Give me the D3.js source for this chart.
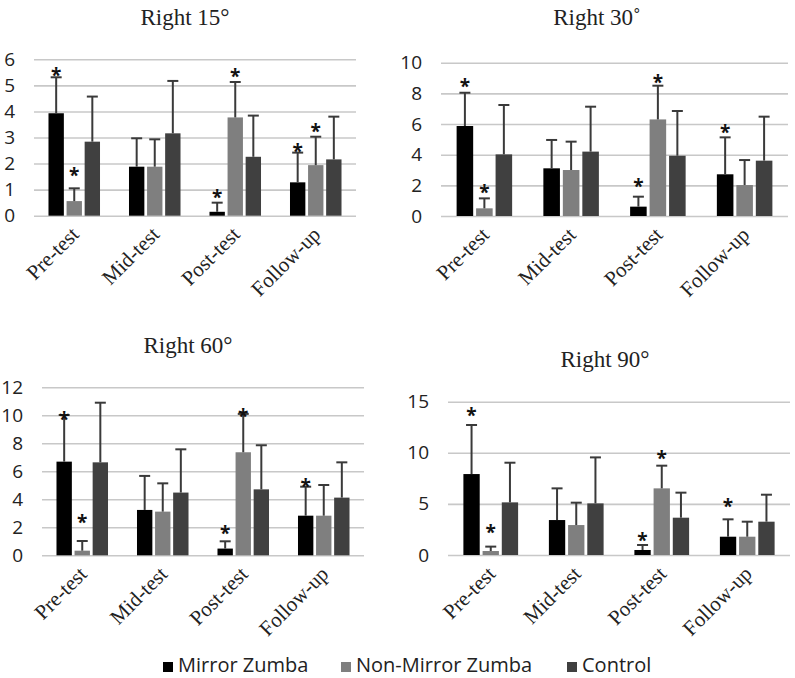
<!DOCTYPE html>
<html>
<head>
<meta charset="utf-8">
<script src="https://cdn.jsdelivr.net/npm/d3@7"></script>
<style>
    body { margin: 0; background: #fff; }
    svg { display: block; }
</style>
</head>
<body>
<svg width="795" height="678"></svg>
<script>
// Categories and series
const categories = ['Pre-test', 'Mid-test', 'Post-test', 'Follow-up'];
const seriesNames = ['Mirror Zumba', 'Non-Mirror Zumba', 'Control'];
const seriesColors = ['#000000', '#7f7f7f', '#404040'];

// Means per category: [Mirror, Non-Mirror, Control]
const mean15 = [[3.93, 0.56, 2.84], [1.88, 1.88, 3.16], [0.15, 3.77, 2.26], [1.28, 1.94, 2.16]];
const mean30 = [[5.87, 0.5, 4.02], [3.11, 3.0, 4.2], [0.61, 6.3, 3.93], [2.72, 2.02, 3.61]];
const mean60 = [[6.69, 0.33, 6.64], [3.24, 3.12, 4.48], [0.48, 7.36, 4.71], [2.83, 2.83, 4.12]];
const mean90 = [[7.92, 0.39, 5.15], [3.42, 2.93, 5.05], [0.49, 6.52, 3.65], [1.79, 1.79, 3.26]];

// Standard deviations (upper error bars)
const sd15 = [[1.38, 0.49, 1.73], [1.09, 1.05, 2.01], [0.35, 1.36, 1.58], [1.14, 1.09, 1.64]];
const sd30 = [[2.17, 0.65, 3.22], [1.85, 1.85, 2.93], [0.65, 2.2, 2.92], [2.41, 1.63, 2.87]];
const sd60 = [[3.33, 0.69, 4.26], [2.43, 2.02, 3.09], [0.52, 2.74, 3.15], [2.07, 2.19, 2.52]];
const sd90 = [[4.8, 0.43, 3.88], [3.1, 2.19, 4.5], [0.49, 2.22, 2.45], [1.7, 1.47, 2.64]];

// Significance asterisks: [category, series, level]
const star15 = [[0, 0, 5.52], [0, 1, 1.69], [2, 0, 0.82], [2, 1, 5.49], [3, 0, 2.58], [3, 1, 3.35]];
const star30 = [[0, 0, 8.65], [0, 1, 1.74], [2, 0, 2.13], [2, 1, 8.91], [3, 0, 5.67]];
const star60 = [[0, 0, 9.95], [0, 1, 2.57], [2, 0, 1.81], [2, 1, 10.14], [3, 0, 5.19]];
const star90 = [[0, 0, 14.02], [0, 1, 2.51], [2, 0, 1.79], [2, 1, 9.78], [3, 0, 5.12]];

// Y axis ticks
const ticks15 = [0, 1, 2, 3, 4, 5, 6];
const ticks30 = [0, 2, 4, 6, 8, 10];
const ticks60 = [0, 2, 4, 6, 8, 10, 12];
const ticks90 = [0, 5, 10, 15];

// Panel layout
const panels = [
    { title: 'Right 15°', mean: mean15, sd: sd15, stars: star15, ticks: ticks15,
      x0: 34, x1: 356, top: 59.3, base: 215.7, tx: 185, ty: 25 },
    { title: 'Right 30˚', mean: mean30, sd: sd30, stars: star30, ticks: ticks30,
      x0: 441, x1: 788, top: 62.7, base: 216, tx: 597, ty: 25 },
    { title: 'Right 60°', mean: mean60, sd: sd60, stars: star60, ticks: ticks60,
      x0: 42, x1: 364, top: 387.3, base: 555.3, tx: 188, ty: 353 },
    { title: 'Right 90°', mean: mean90, sd: sd90, stars: star90, ticks: ticks90,
      x0: 448, x1: 790, top: 401.7, base: 555, tx: 605, ty: 367 }
];

const svg = d3.select('svg');

panels.forEach((p) => {
    const g = svg.append('g');

    // Define scales
    const x = d3.scaleBand().domain(categories).range([p.x0, p.x1]);
    const bw = x.bandwidth();
    const xs = d3
        .scaleBand()
        .domain(d3.range(seriesNames.length))
        .range([bw * 0.18, bw * 0.82])
        .paddingInner(0.15);
    const y = d3
        .scaleLinear()
        .domain([0, d3.max(p.ticks)])
        .range([p.base, p.top]);

    // Title
    g.append('text')
        .attr('x', p.tx)
        .attr('y', p.ty)
        .attr('text-anchor', 'middle')
        .style('font-family', '"Liberation Serif", "Times New Roman", serif')
        .style('font-size', '23px')
        .attr('fill', '#222')
        .text(p.title);

    // Gridlines and tick labels
    const yAxis = d3
        .axisLeft(y)
        .tickValues(p.ticks)
        .tickSize(-(p.x1 - p.x0))
        .tickPadding(19)
        .tickFormat(d3.format('d'));
    const ax = g
        .append('g')
        .attr('transform', `translate(${p.x0},0)`)
        .call(yAxis);
    ax.select('.domain').remove();
    ax.selectAll('.tick line').attr('stroke', '#c8c8c8').attr('stroke-width', 1.6);
    ax.selectAll('.tick text')
        .attr('fill', '#222')
        .style('font-family', '"Open Sans", sans-serif')
        .style('font-size', '19px');

    // Flatten data
    const cells = [];
    p.mean.forEach((row, ci) => {
        row.forEach((v, si) => {
            cells.push({ cat: categories[ci], si: si, v: v, sd: p.sd[ci][si] });
        });
    });

    // Draw bars
    g.append('g')
        .selectAll('rect')
        .data(cells)
        .enter()
        .append('rect')
        .attr('x', (d) => x(d.cat) + xs(d.si))
        .attr('width', xs.bandwidth())
        .attr('y', (d) => y(d.v))
        .attr('height', (d) => y(0) - y(d.v))
        .attr('fill', (d) => seriesColors[d.si]);

    // Draw error bars (upper only)
    const eb = g.append('g').attr('stroke', '#3a3a3a').attr('stroke-width', 2);
    eb.selectAll('line.v')
        .data(cells)
        .enter()
        .append('line')
        .attr('class', 'v')
        .attr('x1', (d) => x(d.cat) + xs(d.si) + xs.bandwidth() / 2)
        .attr('x2', (d) => x(d.cat) + xs(d.si) + xs.bandwidth() / 2)
        .attr('y1', (d) => y(d.v))
        .attr('y2', (d) => y(d.v + d.sd));
    eb.selectAll('line.c')
        .data(cells)
        .enter()
        .append('line')
        .attr('class', 'c')
        .attr('x1', (d) => x(d.cat) + xs(d.si) + xs.bandwidth() / 2 - 5.5)
        .attr('x2', (d) => x(d.cat) + xs(d.si) + xs.bandwidth() / 2 + 5.5)
        .attr('y1', (d) => y(d.v + d.sd))
        .attr('y2', (d) => y(d.v + d.sd));

    // Asterisks
    g.append('g')
        .selectAll('text')
        .data(p.stars)
        .enter()
        .append('text')
        .attr('x', (d) => x(categories[d[0]]) + xs(d[1]) + xs.bandwidth() / 2)
        .attr('y', (d) => y(d[2]) + 10)
        .attr('text-anchor', 'middle')
        .style('font-family', '"Open Sans", sans-serif')
        .style('font-weight', 'bold')
        .style('font-size', '19px')
        .attr('fill', '#111')
        .text('*');

    // Category labels
    g.append('g')
        .selectAll('text')
        .data(categories)
        .enter()
        .append('text')
        .attr('transform', (d) => `translate(${x(d) + bw / 2 + 6},${p.base + 20}) rotate(-45)`)
        .attr('text-anchor', 'end')
        .style('font-family', '"Liberation Serif", "Times New Roman", serif')
        .style('font-size', '21px')
        .attr('fill', '#222')
        .text((d) => d);
});

// Legend
const legendX = [163, 341, 567];
const legend = svg
    .append('g')
    .selectAll('g')
    .data(seriesNames)
    .enter()
    .append('g')
    .attr('transform', (d, i) => `translate(${legendX[i]},662)`);
legend
    .append('rect')
    .attr('width', 10)
    .attr('height', 10)
    .attr('fill', (d, i) => seriesColors[i]);
legend
    .append('text')
    .attr('x', 15)
    .attr('y', 10)
    .style('font-family', '"Open Sans", sans-serif')
    .style('font-size', '20px')
    .attr('fill', '#222')
    .text((d) => d);
</script>
</body>
</html>
